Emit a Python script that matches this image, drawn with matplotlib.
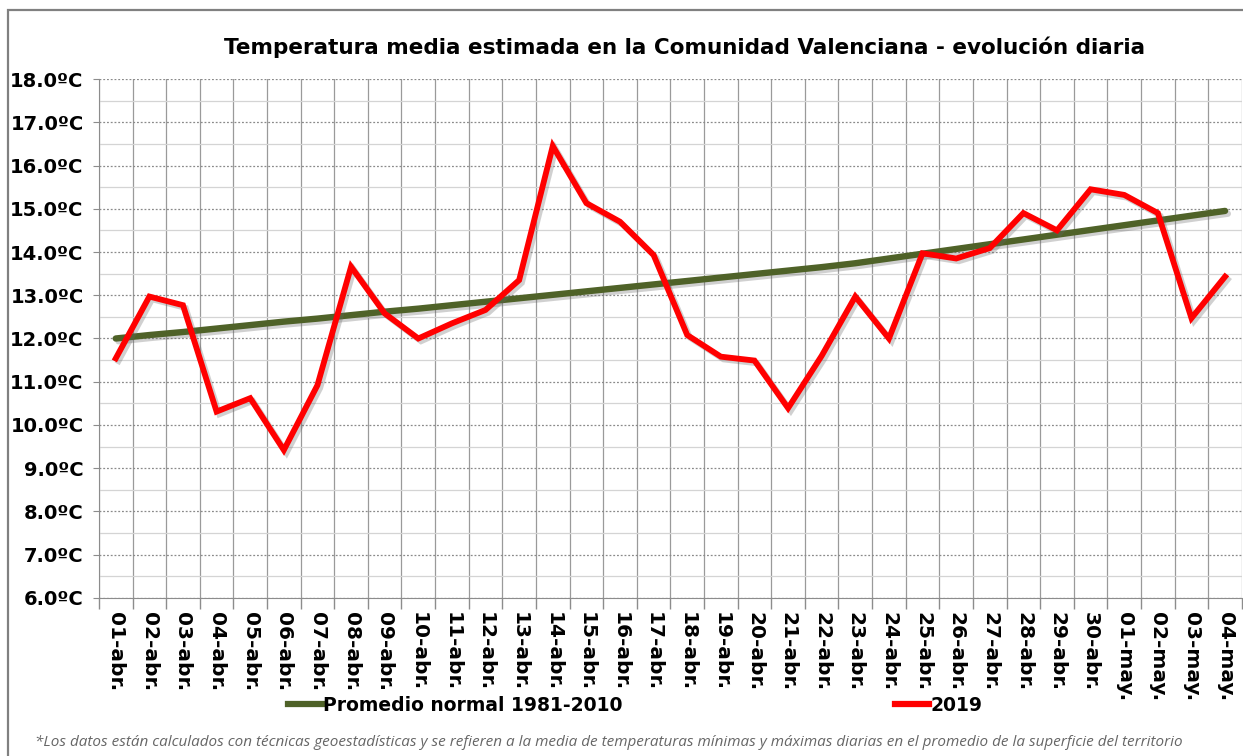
import matplotlib
matplotlib.use("Agg")
import matplotlib.pyplot as plt
import matplotlib.patheffects as pe
from matplotlib.patches import Rectangle
from matplotlib.lines import Line2D
import numpy as np

# Data
days = ["01-abr.", "02-abr.", "03-abr.", "04-abr.", "05-abr.", "06-abr.", "07-abr.",
        "08-abr.", "09-abr.", "10-abr.", "11-abr.", "12-abr.", "13-abr.", "14-abr.",
        "15-abr.", "16-abr.", "17-abr.", "18-abr.", "19-abr.", "20-abr.", "21-abr.",
        "22-abr.", "23-abr.", "24-abr.", "25-abr.", "26-abr.", "27-abr.", "28-abr.",
        "29-abr.", "30-abr.", "01-may.", "02-may.", "03-may.", "04-may."]

normal_1981_2010 = [12.00, 12.08, 12.15, 12.23, 12.31, 12.39, 12.46, 12.54, 12.62, 12.69,
                    12.77, 12.85, 12.93, 13.01, 13.09, 13.17, 13.25, 13.33, 13.41, 13.49,
                    13.57, 13.65, 13.74, 13.85, 13.96, 14.07, 14.18, 14.29, 14.40, 14.51,
                    14.62, 14.73, 14.84, 14.95]

temp_2019 = [11.54, 12.97, 12.77, 10.31, 10.62, 9.42, 10.92, 13.66, 12.58, 12.00,
             12.35, 12.66, 13.35, 16.45, 15.13, 14.70, 13.93, 12.08, 11.58, 11.49,
             10.39, 11.60, 12.97, 12.00, 13.97, 13.85, 14.09, 14.90, 14.50, 15.45,
             15.32, 14.90, 12.47, 13.43]

yticks = np.arange(6, 19, 1)

GREEN = "#4f6228"
RED = "#ff0000"

fig = plt.figure(figsize=(12.43, 7.56), dpi=100)
ax = fig.add_axes([0.0796, 0.209, 0.9195, 0.6865])

x = np.arange(len(days))
shadow = [pe.SimpleLineShadow(offset=(2, -2), shadow_color="#666666", alpha=0.3), pe.Normal()]
ax.plot(x, normal_1981_2010, color=GREEN, lw=4.6, solid_capstyle="round",
        path_effects=shadow, zorder=3)
ax.plot(x, temp_2019, color=RED, lw=4.2, solid_joinstyle="miter",
        path_effects=shadow, zorder=4)

ax.set_xlim(-0.5, len(days) - 0.5)
ax.set_ylim(6, 18)

# x axis: labels at centres, gridlines/ticks at category boundaries
ax.set_xticks(x)
ax.set_xticklabels(days, rotation=270, fontsize=14.5, fontweight="bold")
ax.set_xticks(np.arange(-0.5, len(days), 1), minor=True)
ax.tick_params(axis="x", which="major", length=0, pad=10)
ax.tick_params(axis="x", which="minor", length=8, color="#8c8c8c", width=1)
ax.grid(axis="x", which="minor", color="#9a9a9a", lw=0.9)

# y axis
ax.set_yticks(yticks)
ax.set_yticklabels([f"{v:.1f}ºC" for v in yticks], fontsize=14, fontweight="bold")
ax.set_yticks(np.arange(6.5, 18, 1), minor=True)
ax.tick_params(axis="y", which="major", length=4, color="#8c8c8c", pad=7)
ax.tick_params(axis="y", which="minor", length=0)
ax.grid(axis="y", which="major", color="#8a8a8a", lw=0.9, linestyle=(0, (1.5, 1.5)))
ax.grid(axis="y", which="minor", color="#d4d4d4", lw=0.9)
ax.set_axisbelow(True)

for side in ["top", "right"]:
    ax.spines[side].set_visible(False)
for side in ["left", "bottom"]:
    ax.spines[side].set_color("#8c8c8c")

fig.text(0.551, 0.937, "Temperatura media estimada en la Comunidad Valenciana - evolución diaria",
         ha="center", va="center", fontsize=15.5, fontweight="bold")

handles = [Line2D([], [], color=GREEN, lw=4.5), Line2D([], [], color=RED, lw=4.5)]
fig.legend(handles, ["Promedio normal 1981-2010", "2019"], loc="center",
           bbox_to_anchor=(0.511, 0.067), ncol=2, frameon=False,
           prop={"weight": "bold", "size": 13.5}, handlelength=1.8,
           handletextpad=0.1, columnspacing=14.5)

fig.text(0.028, 0.018,
         "*Los datos están calculados con técnicas geoestadísticas y se refieren a la media de "
         "temperaturas mínimas y máximas diarias en el promedio de la superficie del territorio",
         ha="left", va="center", fontsize=11, style="italic", color="#666666",
         family=["Open Sans", "DejaVu Sans"])

fig.patches.append(Rectangle((0.0065, -0.01), 1.1, 0.997, transform=fig.transFigure,
                             fill=False, edgecolor="#808080", lw=1.6, clip_on=False))

fig.savefig("out.png", dpi=100)
